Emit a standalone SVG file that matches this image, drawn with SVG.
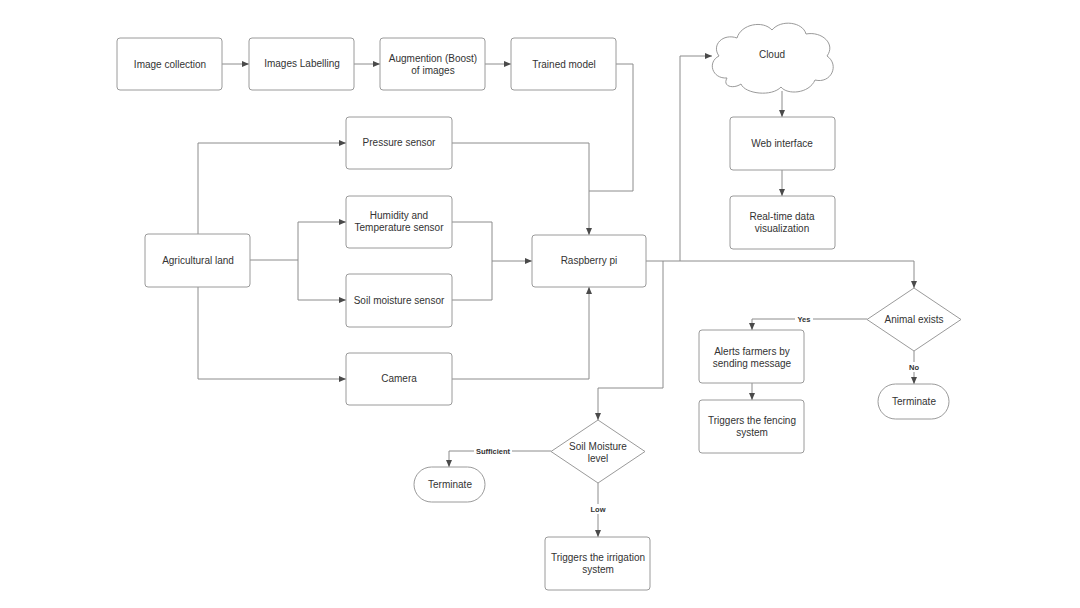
<svg xmlns="http://www.w3.org/2000/svg" width="1080" height="608" viewBox="0 0 1080 608">
<style>
.box{fill:#fff;stroke:#9a9a9a;stroke-width:1}
.t{font-family:"Liberation Sans",Arial,sans-serif;font-size:10px;fill:#333;text-anchor:middle;dominant-baseline:central}
.lbl{font-family:"Liberation Sans",Arial,sans-serif;font-size:7.5px;font-weight:bold;fill:#333;text-anchor:middle;dominant-baseline:central}
.c{fill:none;stroke:#8c8c8c;stroke-width:1}
.ca{fill:none;stroke:#8c8c8c;stroke-width:1;marker-end:url(#ah)}
</style>
<defs>
<marker id="ah" markerWidth="8" markerHeight="8" refX="7" refY="4" orient="auto" markerUnits="userSpaceOnUse">
<path d="M0,1 L7,4 L0,7 Z" fill="#4a4a4a"/>
</marker>
</defs>
<rect width="1080" height="608" fill="#fff"/>
<g id="connectors">
<path class="ca" d="M222,64 H249"/>
<path class="ca" d="M354,64 H380"/>
<path class="ca" d="M485,64 H511"/>
<path class="c" d="M616,64 H633 V191 H589"/>
<path class="ca" d="M452,143 H589 V235"/>
<path class="ca" d="M198,234 V143 H346"/>
<path class="ca" d="M198,287 V379 H346"/>
<path class="ca" d="M250,260 H298 V222 H346"/>
<path class="ca" d="M298,260 V300 H346"/>
<path class="c" d="M452,222 H492 V300 H452"/>
<path class="ca" d="M492,261 H532"/>
<path class="ca" d="M452,379 H589 V287"/>
<path class="ca" d="M646,261 H914 V288"/>
<path class="ca" d="M680,261 V56 H712"/>
<path class="ca" d="M663,261 V388 H598 V420"/>
<path class="ca" d="M782,91 V117"/>
<path class="ca" d="M782,170 V196"/>
<path class="ca" d="M867,319 H752 V330"/>
<path class="ca" d="M914,351 V384"/>
<path class="ca" d="M752,383 V400"/>
<path class="ca" d="M551,451 H449 V467"/>
<path class="ca" d="M598,483 V537"/>
<rect x="795" y="314" width="18" height="10" fill="#fff"/>
<text class="lbl" x="804" y="319">Yes</text>
<rect x="906" y="362" width="16" height="10" fill="#fff"/>
<text class="lbl" x="914" y="367">No</text>
<rect x="474" y="446" width="38" height="10" fill="#fff"/>
<text class="lbl" x="493" y="451">Sufficient</text>
<rect x="588" y="504" width="20" height="10" fill="#fff"/>
<text class="lbl" x="598" y="509">Low</text>
</g>
<g id="image-collection"><rect class="box" x="117" y="38" width="105" height="52" rx="3"/><text class="t" x="170" y="64">Image collection</text></g>
<g id="images-labelling"><rect class="box" x="249" y="38" width="105" height="52" rx="3"/><text class="t" x="302" y="63">Images Labelling</text></g>
<g id="augmention"><rect class="box" x="380" y="38" width="105" height="52" rx="3"/><text class="t" x="433" y="58">Augmention (Boost)</text><text class="t" x="433" y="70">of images</text></g>
<g id="trained-model"><rect class="box" x="511" y="38" width="105" height="52" rx="3"/><text class="t" x="564" y="64">Trained model</text></g>
<g id="pressure-sensor"><rect class="box" x="346" y="117" width="106" height="52" rx="3"/><text class="t" x="399" y="142">Pressure sensor</text></g>
<g id="humidity-sensor"><rect class="box" x="346" y="196" width="106" height="52" rx="3"/><text class="t" x="399" y="215">Humidity and</text><text class="t" x="399" y="227">Temperature sensor</text></g>
<g id="soil-sensor"><rect class="box" x="346" y="274" width="106" height="53" rx="3"/><text class="t" x="399" y="300">Soil moisture sensor</text></g>
<g id="camera"><rect class="box" x="346" y="353" width="106" height="52" rx="3"/><text class="t" x="399" y="378">Camera</text></g>
<g id="agricultural-land"><rect class="box" x="145" y="234" width="105" height="53" rx="3"/><text class="t" x="198" y="260">Agricultural land</text></g>
<g id="raspberry-pi"><rect class="box" x="532" y="235" width="114" height="52" rx="3"/><text class="t" x="589" y="260">Raspberry pi</text></g>
<g id="cloud"><path class="box" d="M727,78 C712,79 707,62 719,56 C711,45 723,33 737,38 C741,24 763,20 772,30 C781,19 803,22 806,34 C822,31 836,44 827,56 C840,65 831,84 815,80 C809,94 787,95 781,87 C772,97 745,94 741,84 C734,89 722,87 727,78 Z"/><text class="t" x="772" y="54">Cloud</text></g>
<g id="web-interface"><rect class="box" x="730" y="117" width="105" height="53" rx="3"/><text class="t" x="782" y="143">Web interface</text></g>
<g id="real-time"><rect class="box" x="730" y="196" width="105" height="53" rx="3"/><text class="t" x="782" y="216">Real-time data</text><text class="t" x="782" y="228">visualization</text></g>
<g id="animal-exists"><path class="box" d="M914,288 L961,319.5 L914,351 L867,319.5 Z"/><text class="t" x="914" y="319">Animal exists</text></g>
<g id="alerts"><rect class="box" x="699" y="330" width="105" height="53" rx="3"/><text class="t" x="752" y="351">Alerts farmers by</text><text class="t" x="752" y="363">sending message</text></g>
<g id="fencing"><rect class="box" x="699" y="400" width="105" height="53" rx="3"/><text class="t" x="752" y="420">Triggers the fencing</text><text class="t" x="752" y="432">system</text></g>
<g id="terminate-animal"><rect class="box" x="878" y="384" width="71" height="35" rx="17.5"/><text class="t" x="914" y="401">Terminate</text></g>
<g id="soil-moisture-level"><path class="box" d="M598,420 L645,451.5 L598,483 L551,451.5 Z"/><text class="t" x="598" y="446">Soil Moisture</text><text class="t" x="598" y="458">level</text></g>
<g id="terminate-soil"><rect class="box" x="414" y="467" width="71" height="35" rx="17.5"/><text class="t" x="450" y="484">Terminate</text></g>
<g id="irrigation"><rect class="box" x="545" y="537" width="105" height="53" rx="3"/><text class="t" x="598" y="557">Triggers the irrigation</text><text class="t" x="598" y="569">system</text></g>
</svg>
